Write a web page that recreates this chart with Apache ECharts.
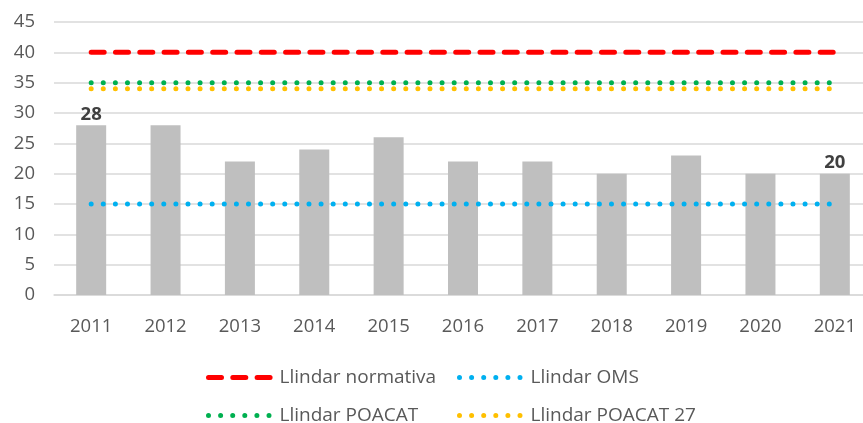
<!DOCTYPE html>
<html>
<head>
<meta charset="utf-8">
<script src="https://cdn.jsdelivr.net/npm/echarts@6/dist/echarts.min.js"></script>
<style>
  html, body { margin: 0; padding: 0; background: #fff; }
  #chart { width: 863px; height: 423px; }
</style>
</head>
<body>
<div id="chart"></div>
<script>
const years = ['2011', '2012', '2013', '2014', '2015', '2016', '2017', '2018', '2019', '2020', '2021']
const values = [28, 28, 22, 24, 26, 22, 22, 20, 23, 20, 20]
const normativa = [40, 40, 40, 40, 40, 40, 40, 40, 40, 40, 40]
const oms = [15, 15, 15, 15, 15, 15, 15, 15, 15, 15, 15]
const poacat = [35, 35, 35, 35, 35, 35, 35, 35, 35, 35, 35]
const poacat27 = [34, 34, 34, 34, 34, 34, 34, 34, 34, 34, 34]
const labelled = [0, 10]

const font = 'Open Sans'
const textColor = '#595959'

const myChart = echarts.init(document.getElementById('chart'))

const dotStyle = { width: 5, type: [0, 12.1], cap: 'round' }
const dashStyle = { width: 5, type: [13, 11.3], cap: 'round' }

const legendAt = (name, left, top, line) => ({
    data: [name],
    left: left,
    top: top,
    itemWidth: 66,
    itemHeight: 14,
    itemGap: 7,
    itemStyle: { opacity: 0 },
    lineStyle: line,
    textStyle: { color: textColor, fontSize: 19, fontFamily: font }
})

const option = {
    animation: false,
    grid: { left: 54, width: 818, top: 22, bottom: 128, outerBoundsMode: 'none', containLabel: false },
    legend: [
        legendAt('Llindar normativa', 201, 363, dashStyle),
        legendAt('Llindar OMS', 452, 363, dotStyle),
        legendAt('Llindar POACAT', 201, 401, dotStyle),
        legendAt('Llindar POACAT 27', 452, 401, dotStyle)
    ],
    xAxis: {
        type: 'category',
        data: years,
        axisTick: { show: false },
        axisLine: { lineStyle: { color: '#d9d9d9', width: 1.5 } },
        axisLabel: { color: textColor, fontSize: 18.5, fontFamily: font, margin: 22 }
    },
    yAxis: {
        type: 'value',
        min: 0,
        max: 45,
        interval: 5,
        axisLine: { show: false },
        axisTick: { show: false },
        axisLabel: { color: textColor, fontSize: 18.5, fontFamily: font, margin: 19 },
        splitLine: { lineStyle: { color: '#d9d9d9', width: 1.5 } }
    },
    series: [
        {
            name: 'Valor',
            type: 'bar',
            barWidth: 30,
            itemStyle: { color: '#bfbfbf' },
            data: values.map((v, i) => ({
                value: v,
                label: {
                    show: labelled.includes(i),
                    position: 'top',
                    distance: 1,
                    color: '#404040',
                    fontWeight: 'bold',
                    fontSize: 18.5,
                    fontFamily: font
                }
            }))
        },
        {
            name: 'Llindar OMS',
            type: 'line',
            data: oms,
            symbol: 'none',
            itemStyle: { color: '#00b0f0' },
            lineStyle: Object.assign({ color: '#00b0f0' }, dotStyle)
        },
        {
            name: 'Llindar POACAT 27',
            type: 'line',
            data: poacat27,
            symbol: 'none',
            itemStyle: { color: '#ffc000' },
            lineStyle: Object.assign({ color: '#ffc000' }, dotStyle)
        },
        {
            name: 'Llindar POACAT',
            type: 'line',
            data: poacat,
            symbol: 'none',
            itemStyle: { color: '#00b050' },
            lineStyle: Object.assign({ color: '#00b050' }, dotStyle)
        },
        {
            name: 'Llindar normativa',
            type: 'line',
            data: normativa,
            symbol: 'none',
            itemStyle: { color: '#ff0000' },
            lineStyle: Object.assign({ color: '#ff0000' }, dashStyle)
        }
    ]
}
myChart.setOption(option)
window.addEventListener('resize', function () {
    myChart.resize()
})
</script>
</body>
</html>
